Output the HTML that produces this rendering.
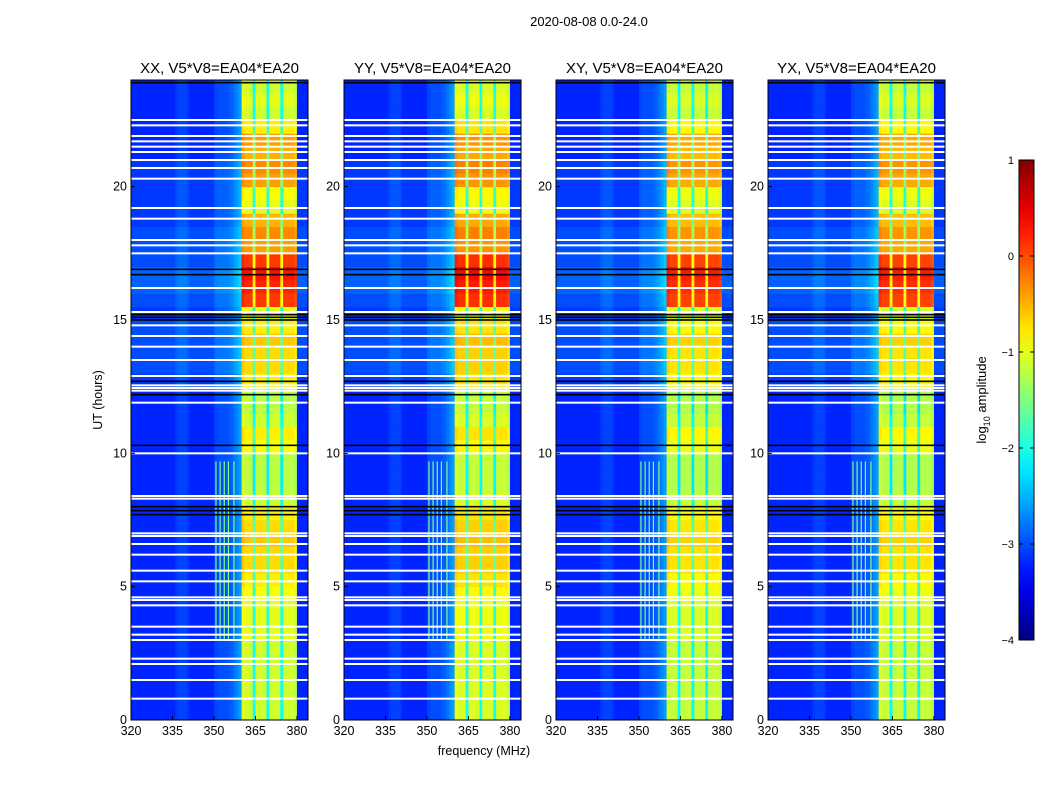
<!DOCTYPE html>
<html><head><meta charset="utf-8"><style>
body{margin:0;background:#fff;}
svg text{font-family:"Liberation Sans","DejaVu Sans",sans-serif;}
</style></head><body>
<svg id="fig" width="1050" height="800" xmlns="http://www.w3.org/2000/svg">
<rect width="1050" height="800" fill="#fff"/>
<text x="589" y="26" font-size="13" text-anchor="middle">2020-08-08 0.0-24.0</text>
<text x="484" y="755" font-size="12.5" text-anchor="middle">frequency (MHz)</text>
<text transform="translate(102,400) rotate(-90)" font-size="12.5" text-anchor="middle">UT (hours)</text>
<defs><linearGradient id="jetg" x1="0" y1="1" x2="0" y2="0"></linearGradient></defs>
<g id="panels"></g>
<g id="cbar"></g>
</svg>
<script>
// ---- data ----
const panelTitles = ["XX, V5*V8=EA04*EA20","YY, V5*V8=EA04*EA20","XY, V5*V8=EA04*EA20","YX, V5*V8=EA04*EA20"];
const panelOffsets = [0, 0.05, -0.05, -0.05];
const xTicks = [320,335,350,365,380];
const yTicks = [0,5,10,15,20];
const cbTicks = [1,0,-1,-2,-3,-4];
// band level (log10 amp) per 0.5 h row, 0h..24h
const bandLevel = [-1.1,-1.1,-1.1,-1.1,-1.1,-1.1,-1.0,-1.0,-1.0,-0.9,-0.8,-0.7,-0.7,-0.6,-0.7,-0.8,-1.1,-1.2,-1.2,-1.2,-0.9,-0.8,-1.1,-1.2,-1.2,-0.8,-0.7,-0.7,-0.6,-0.8,-1.0,0.1,0.2,0.3,0.1,-0.4,-0.3,-0.5,-1.0,-0.9,-0.4,-0.3,-0.5,-0.4,-0.8,-1.1,-1.0,-1.1];
// background level per row
const bgLevel = [-3.2,-3.2,-3.2,-3.2,-3.2,-3.2,-3.2,-3.2,-3.2,-3.2,-3.2,-3.2,-3.2,-3.2,-3.2,-3.2,-3.2,-3.2,-3.2,-3.2,-3.2,-3.2,-3.2,-3.2,-3.2,-3.1,-3.0,-3.0,-3.0,-3.0,-3.1,-3.0,-2.9,-2.9,-3.0,-3.0,-3.0,-3.1,-3.1,-3.1,-3.1,-3.1,-3.2,-3.2,-3.2,-3.2,-3.2,-3.2];
// per-channel offset 320..383 MHz (1 MHz)
const chanOffset = [0,0,0,0,0,0,0,0,0,0,0,0,0,0,0,0,0.1,0.15,0.15,0.15,0.1,0,0,0,0,0,0,0,0,0,0.15,0.2,0.2,0.2,0.2,0.25,0.3,0.4,0.5,0.6,
 0.1,0,0,0,-1.0,0,0,0,0,-1.0,0,0,0,0,-1.0,0,0,0,0,-0.1,0,0,0,0];
const bandStart = 360, bandEnd = 380;
const flagTimes = [22.5,22.3,21.9,21.7,21.5,21.3,21.0,20.7,20.3,19.2,18.8,18.0,17.8,17.5,16.2,15.3,14.8,14.4,14.0,13.5,12.9,12.55,12.45,12.35,11.9,10.0,8.4,8.3,7.0,6.9,6.6,6.2,5.6,5.2,4.6,4.5,4.3,3.5,3.2,3.0,2.3,2.1,1.5,0.8];
const darkTimes = [23.9,16.9,16.7,15.2,15.1,15.0,12.7,12.2,10.3,8.0,7.85,7.7];
const spikeFreqs = [350.5,352,353.5,355,357];
const spikeStart = 3.0, spikeEnd = 9.7;

// ---- helpers ----
function jet(v){ // v in [-4,1]
  let t=(v+4)/5; t=Math.max(0,Math.min(1,t));
  const f=(x)=>Math.max(0,Math.min(1,1.5-Math.abs(4*t-x)));
  return `rgb(${Math.round(255*f(3))},${Math.round(255*f(2))},${Math.round(255*f(1))})`;
}
const NS="http://www.w3.org/2000/svg";
function el(tag,attrs,parent){const e=document.createElementNS(NS,tag);for(const k in attrs)e.setAttribute(k,attrs[k]);parent.appendChild(e);return e;}
const panelX=[131,344,556,768], PW=177, PT=80, PB=720;
const fMin=320, fMax=384, tMax=24;
const panels=document.getElementById('panels');
panelX.forEach((px,pi)=>{
  const xs=f=>px+(f-fMin)/(fMax-fMin)*PW;
  const ys=t=>PB-t/tMax*(PB-PT);
  const g=el('g',{},panels);
  
  
  el('rect',{x:px,y:PT,width:PW,height:PB-PT,fill:jet(-3.2)},g);
  for(let r=0;r<bandLevel.length;r++){
    for(let c=0;c<chanOffset.length;c++){
      const f=fMin+c, inBand=f>=bandStart&&f<bandEnd;
      const v=(inBand?bandLevel[r]+panelOffsets[pi]:bgLevel[r])+chanOffset[c];
      const cell=el('rect',{x:xs(f),y:ys((r+1)*0.5),width:xs(f+1)-xs(f)+0.3,height:ys(0)-ys(0.5)+0.3,fill:jet(v)},g);
      
      
    }
  }
  spikeFreqs.forEach(f=>{const s=el('rect',{x:xs(f),y:ys(spikeEnd),width:1.2,height:ys(spikeStart)-ys(spikeEnd),fill:jet(-1.5)},g);
    });
  flagTimes.forEach(t=>{const l=el('rect',{x:px,y:ys(t)-1,width:PW,height:2,fill:'#fff'},g);
    });
  darkTimes.forEach(t=>{const l=el('rect',{x:px,y:ys(t)-0.8,width:PW,height:1.6,fill:'#000'},g);
    });
  el('rect',{x:px,y:PT,width:PW,height:PB-PT,fill:'none',stroke:'#000','stroke-width':1},g);
  const tt=el('text',{x:px+PW/2,y:PT-7,'font-size':15,'text-anchor':'middle'},g);tt.textContent=panelTitles[pi];
  
  xTicks.forEach(v=>{const x=xs(v);el('line',{x1:x,x2:x,y1:PB,y2:PB-4,stroke:'#000'},g);
    const t=el('text',{x:x,y:PB+15,'font-size':12.5,'text-anchor':'middle'},g);t.textContent=v;
    });
  yTicks.forEach(v=>{const y=ys(v);el('line',{x1:px,x2:px+4,y1:y,y2:y,stroke:'#000'},g);
    const t=el('text',{x:px-4,y:y+4,'font-size':12.5,'text-anchor':'end'},g);t.textContent=v;
    });
});
// colorbar
const grad=document.getElementById('jetg');
for(let i=0;i<=20;i++){const v=-4+i*5/20;el('stop',{offset:(i/20),'stop-color':jet(v)},grad);}
const cb=document.getElementById('cbar');
const cbX=1019,cbW=15,cbT=160,cbB=640;
const cy=v=>cbB-(v+4)/5*(cbB-cbT);
el('rect',{x:cbX,y:cbT,width:cbW,height:cbB-cbT,fill:'url(#jetg)',stroke:'#000'},cb);
cbTicks.forEach(v=>{const y=cy(v);el('line',{x1:cbX,x2:cbX+4,y1:y,y2:y,stroke:'#000'},cb);el('line',{x1:cbX+cbW-4,x2:cbX+cbW,y1:y,y2:y,stroke:'#000'},cb);
  const t=el('text',{x:cbX-5,y:y+4,'font-size':11,'text-anchor':'end'},cb);t.textContent=(v<0?'\u2212'+(-v):v);
  });
const lab=el('text',{transform:'translate(986,400) rotate(-90)','font-size':13,'text-anchor':'middle'},cb);
lab.innerHTML='log<tspan font-size="9" dy="4">10</tspan><tspan dy="-4"> amplitude</tspan>';

</script>
</body></html>
